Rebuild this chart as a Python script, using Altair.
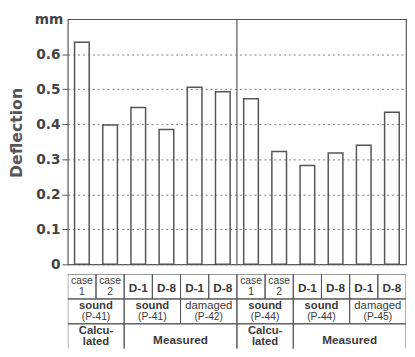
import altair as alt
import pandas as pd

# ---- data ----
deflection = [0.634, 0.398, 0.448, 0.385, 0.506, 0.493,
              0.473, 0.322, 0.282, 0.318, 0.340, 0.434]
row1_line1 = ["case", "case", "D-1", "D-8", "D-1", "D-8",
              "case", "case", "D-1", "D-8", "D-1", "D-8"]
row1_line2 = ["1", "2", "", "", "", "", "1", "2", "", "", "", ""]
row2_line1 = ["sound", "sound", "damaged", "sound", "sound", "damaged"]
row2_line2 = ["(P-41)", "(P-41)", "(P-42)", "(P-44)", "(P-44)", "(P-45)"]
row2_span = [2, 2, 2, 2, 2, 2]
row3_line1 = ["Calcu-", "Measured", "Calcu-", "Measured"]
row3_line2 = ["lated", "", "lated", ""]
row3_span = [2, 4, 2, 4]
y_ticks = [0, 0.1, 0.2, 0.3, 0.4, 0.5, 0.6]
half = 6

n = len(deflection)
LINE = "#555555"
TXT = "#3a3a3a"
AXFONT = "DejaVu Sans"
TFONT = "Liberation Sans"
W = 345

# ---- bar chart ----
bar_df = pd.DataFrame({"key": [f"c{i}" for i in range(n)], "value": deflection})

yenc = alt.Y("value:Q",
             scale=alt.Scale(domain=[0, 0.7], nice=False),
             axis=alt.Axis(values=y_ticks, grid=True, gridDash=[2, 3], gridColor="#7a7a7a",
                           gridWidth=1, domain=False, tickSize=6, tickColor=LINE, tickWidth=1,
                           labelPadding=2, labelFont=AXFONT, labelFontSize=14, labelFontWeight="bold",
                           labelColor="#444444",
                           labelExpr="datum.value == 0 ? '0' : format(datum.value, '.1f')",
                           title="mm", titleAngle=0, titleX=-5, titleY=0, titleAlign="right",
                           titleBaseline="middle", titleFont=AXFONT, titleFontSize=14,
                           titleFontWeight="bold", titleColor="#444444"))

bars = alt.Chart(bar_df).mark_bar(fillOpacity=0, stroke=LINE, strokeWidth=1.5).encode(
    x=alt.X("key:N", sort=None, scale=alt.Scale(paddingInner=0.48, paddingOuter=0.24), axis=None),
    y=yenc,
)

divider = alt.Chart(pd.DataFrame({"b": [half]})).mark_rule(stroke=LINE, strokeWidth=1.2).encode(
    x=alt.X("b:Q", scale=alt.Scale(domain=[0, n], nice=False, zero=False), axis=None)
)

ytitle = alt.Chart(pd.DataFrame({"t": ["Deflection"]})).mark_text(
    angle=270, font=AXFONT, fontSize=16, fontWeight="bold", color="#555555", baseline="middle"
).encode(text="t:N", x=alt.value(-52), y=alt.value(116))

top = alt.layer(bars, divider, ytitle).resolve_scale(x="independent").properties(
    width=W, height=250, view=alt.ViewBackground(stroke=LINE, strokeWidth=1.2))

# ---- table below ----
def cells(spans, row, l1, l2):
    rows = []
    s = 0
    for sp, a, b in zip(spans, l1, l2):
        rows.append({"x0": s, "x1": s + sp, "xc": s + sp / 2, "r0": row, "r1": row + 1,
                     "rc": row + 0.5, "t1": a, "t2": b})
        s += sp
    return rows

t_rows = (cells([1] * n, 0, row1_line1, row1_line2)
          + cells(row2_span, 1, row2_line1, row2_line2)
          + cells(row3_span, 2, row3_line1, row3_line2))
tdf = pd.DataFrame(t_rows)
tdf.loc[tdf["r0"] == 2, "r1"] = 3.4  # last row runs off the page

xs = alt.Scale(domain=[0, n], nice=False, zero=False)
ys = alt.Scale(domain=[0, 3], nice=False, zero=False, reverse=True)
base = alt.Chart(tdf)

rects = base.mark_rect(fillOpacity=0, stroke=LINE, strokeWidth=1, clip=True).encode(
    x=alt.X("x0:Q", scale=xs, axis=None), x2="x1",
    y=alt.Y("r0:Q", scale=ys, axis=None), y2="r1")

def txt(filt, field, dy, size, weight):
    return base.transform_filter(filt).mark_text(
        font=TFONT, fontSize=size, fontWeight=weight, color=TXT, dy=dy, baseline="middle"
    ).encode(x=alt.X("xc:Q", scale=xs, axis=None), y=alt.Y("rc:Q", scale=ys, axis=None),
             text=f"{field}:N")

l_case1 = txt("datum.r0 == 0 && datum.t2 != ''", "t1", -6, 10.5, "normal")
l_case2 = txt("datum.r0 == 0 && datum.t2 != ''", "t2", 5.5, 10.5, "normal")
l_d = txt("datum.r0 == 0 && datum.t2 == ''", "t1", 2, 12, "bold")
l_s1 = txt("datum.r0 == 1 && datum.t1 != 'damaged'", "t1", -5.5, 11.5, "bold")
l_s1b = txt("datum.r0 == 1 && datum.t1 == 'damaged'", "t1", -5.5, 11.5, "normal")
l_s2 = txt("datum.r0 == 1", "t2", 5.5, 10.5, "normal")
l_c1 = txt("datum.r0 == 2 && datum.t2 != ''", "t1", -5.5, 11.5, "bold")
l_c2 = txt("datum.r0 == 2 && datum.t2 != ''", "t2", 6, 11.5, "bold")
l_m = txt("datum.r0 == 2 && datum.t2 == ''", "t1", 4, 12, "bold")

table = alt.layer(rects, l_case1, l_case2, l_d, l_s1, l_s1b, l_s2, l_c1, l_c2, l_m).properties(
    width=W, height=76, view=alt.ViewBackground(stroke=None))

chart = alt.vconcat(top, table, spacing=2).properties(
    padding=0,
    background="white",
).configure_view(stroke=None)

chart.save("out.html", embed_options={"renderer": "svg", "actions": False})
